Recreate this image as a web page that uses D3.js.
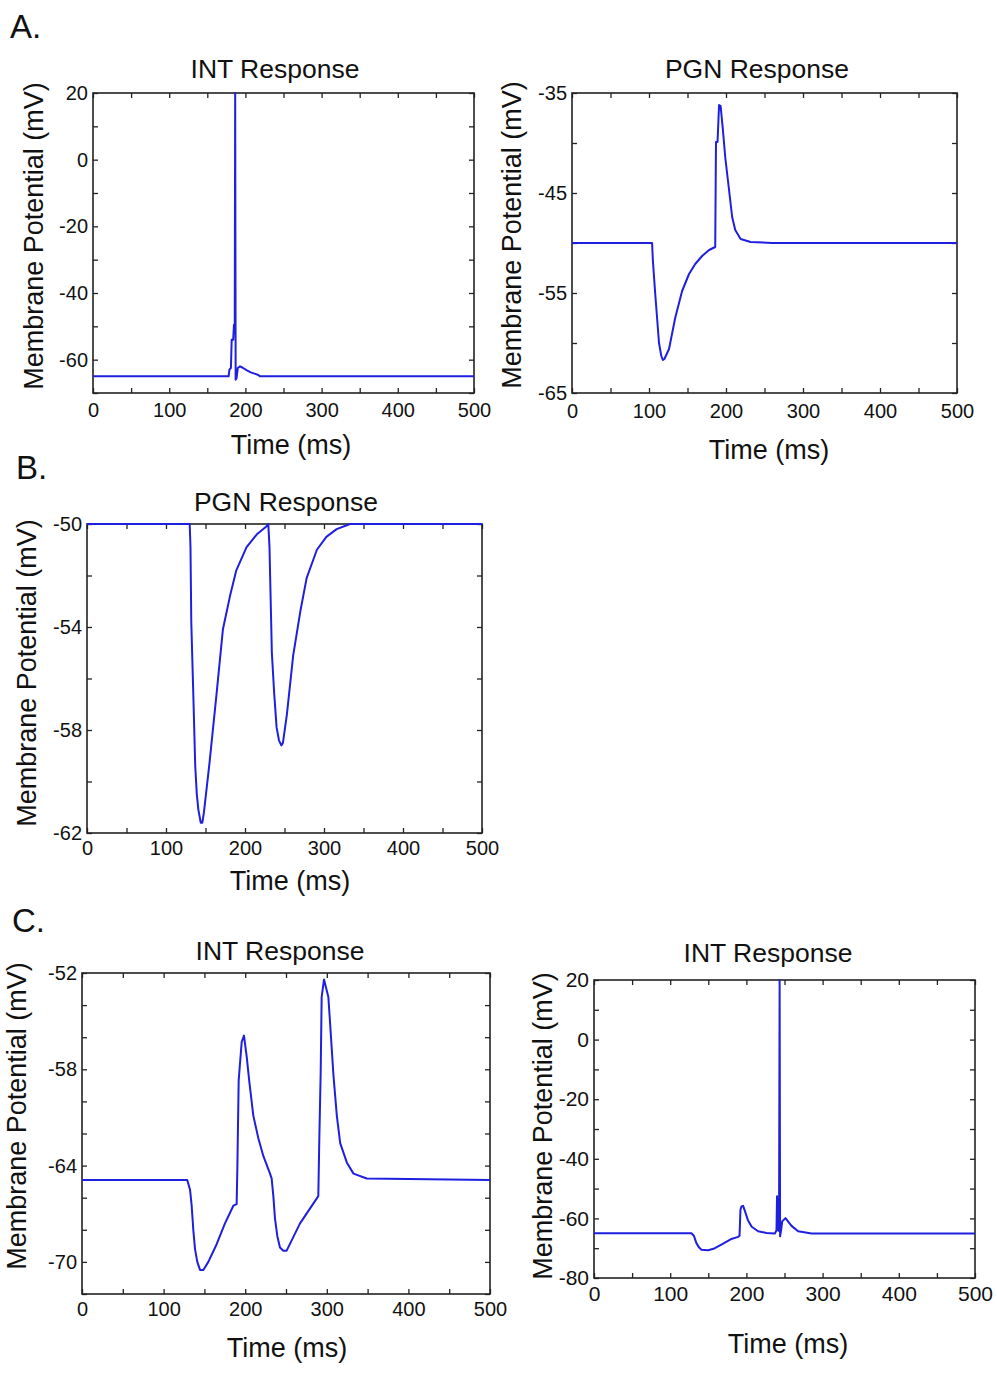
<!DOCTYPE html>
<html><head><meta charset="utf-8">
<script src="https://cdn.jsdelivr.net/npm/d3@7"></script>
<style>
body{margin:0;background:#fff}
svg{display:block}
text{font-family:"Liberation Sans",Arial,Helvetica,sans-serif;fill:#111}
</style>
</head><body>
<svg id="chart" width="997" height="1374"></svg>
<script>
// ---------- data ----------
const timeLabels = [0, 100, 200, 300, 400, 500];
const timeTicks = [0, 50, 100, 150, 200, 250, 300, 350, 400, 450, 500];

// A. INT response
const a1Time = [0, 178, 179, 181, 182, 184, 185, 186, 186.6, 187.2, 188.5, 190, 193, 197, 202, 207, 212, 217, 219, 500];
const a1Volt = [-65, -65, -63, -62.5, -54, -54, -49.5, -49.5, 20, -66, -65.5, -62.5, -62, -62.5, -63.2, -63.8, -64.2, -64.6, -65, -65];
const a1YLabels = [20, 0, -20, -40, -60];
const a1YTicks = [20, 10, 0, -10, -20, -30, -40, -50, -60, -70];

// A. PGN response
const a2Time = [0, 104, 105, 108, 111, 113, 116, 118, 120, 123, 126, 134, 143, 152, 160, 169, 178, 186, 187, 189, 191, 193, 196, 199, 202, 205, 208, 212, 219, 232, 260, 500];
const a2Volt = [-50, -50, -51.7, -55, -58, -60, -61.3, -61.7, -61.6, -61.1, -60.6, -57.5, -54.8, -53.1, -52.1, -51.3, -50.7, -50.4, -39.9, -39.9, -36.2, -36.3, -38.7, -41.4, -43.4, -45.4, -47.4, -48.7, -49.6, -49.9, -50, -50];
const a2YLabels = [-35, -45, -55, -65];
const a2YTicks = [-35, -40, -45, -50, -55, -60, -65];

// B. PGN response
const bTime = [0, 130, 131, 132, 135, 137, 139, 141, 144, 146, 148, 155, 164, 172, 181, 189, 202, 215, 227, 229.5, 231, 234, 237, 240, 243, 246, 248, 253, 261, 270, 278, 291, 303, 316, 333, 500];
const bVolt = [-50, -50, -50.9, -53.8, -57.1, -59.4, -60.5, -61.1, -61.6, -61.6, -61.2, -59.3, -56.6, -54.1, -52.8, -51.8, -50.9, -50.4, -50.1, -50, -50.9, -55, -56.6, -57.9, -58.4, -58.6, -58.5, -57.4, -55.1, -53.4, -52.1, -51, -50.5, -50.2, -50, -50];
const bYLabels = [-50, -54, -58, -62];
const bYTicks = [-50, -52, -54, -56, -58, -60, -62];

// C. INT response (left)
const c1Time = [0, 129, 132.4, 134.4, 136.4, 138.5, 141.3, 144.6, 148.7, 154.8, 165, 175.2, 185.5, 189.5, 190.4, 192, 195.7, 198.5, 201.8, 205.1, 210, 216.1, 222.2, 230.4, 232.4, 234.5, 236.5, 239.4, 242.6, 246.7, 250.8, 267.2, 289.6, 290.8, 292.5, 293.7, 296.6, 301.9, 304, 308.2, 312.3, 316.4, 324.5, 332.7, 349, 500];
const c1Volt = [-64.9, -64.9, -65.5, -66.5, -68, -69.2, -70, -70.5, -70.5, -70, -68.9, -67.6, -66.5, -66.4, -64.1, -58.7, -56.3, -55.9, -57.2, -58.8, -60.9, -62.3, -63.4, -64.5, -64.8, -65.9, -67.3, -68.4, -69.1, -69.3, -69.3, -67.6, -65.9, -62.4, -58.2, -53.5, -52.4, -53.5, -55.1, -58.4, -60.9, -62.6, -63.8, -64.5, -64.8, -64.9];
const c1YLabels = [-52, -58, -64, -70];
const c1YTicks = [-52, -54, -56, -58, -60, -62, -64, -66, -68, -70, -72];

// C. INT response (right)
const c2Time = [0, 127.9, 131, 134.4, 138, 141, 149.7, 158, 167.2, 180.4, 189.1, 191, 192.2, 193.5, 195.7, 198, 202, 207, 215.4, 226.4, 237.3, 239.5, 240.2, 240.8, 241.5, 242.8, 243.6, 244.2, 245.5, 247, 251.3, 259.2, 267.9, 285.5, 500];
const c2Volt = [-65, -65, -65.8, -68.3, -69.8, -70.5, -70.7, -70.1, -68.8, -66.9, -66.2, -65.8, -57.1, -56, -55.8, -57.5, -60.6, -62.8, -64.3, -64.9, -65.1, -64, -52.6, -63, -64, -64.2, 20, -66, -64, -61, -59.9, -62.5, -64.3, -65.1, -65.1];
const c2YLabels = [20, 0, -20, -40, -60, -80];
const c2YTicks = [20, 10, 0, -10, -20, -30, -40, -50, -60, -70, -80];

// ---------- drawing ----------
const svg = d3.select("#chart");
const LINE = "#1f1fe0";
const FONT = '"Liberation Sans",Arial,Helvetica,sans-serif';

function panel(c) {
  const g = svg.append("g");
  const x = d3.scaleLinear().domain([0, 500]).range([c.x0, c.x1]);
  const y = d3.scaleLinear().domain(c.yDomain).range([c.y1, c.y0]);
  const id = "clip" + c.id;
  svg.append("clipPath").attr("id", id).append("rect")
    .attr("x", c.x0 - 1).attr("y", c.y0 - 1.5)
    .attr("width", c.x1 - c.x0 + 2).attr("height", c.y1 - c.y0 + 3);

  const fs = c.tickFont || 20;
  const bottom = g.append("g").attr("transform", `translate(0,${c.y1})`)
    .call(d3.axisBottom(x).tickValues(timeTicks).tickSizeInner(-5).tickSizeOuter(0)
      .tickPadding(c.xPad).tickFormat(d => timeLabels.includes(d) ? d : ""));
  const top = g.append("g").attr("transform", `translate(0,${c.y0})`)
    .call(d3.axisTop(x).tickValues(timeTicks).tickSizeInner(-5).tickSizeOuter(0).tickFormat(""));
  const left = g.append("g").attr("transform", `translate(${c.x0},0)`)
    .call(d3.axisLeft(y).tickValues(c.yTicks).tickSizeInner(-5).tickSizeOuter(0)
      .tickPadding(c.yPad).tickFormat(d => c.yLabels.includes(d) ? d : ""));
  const right = g.append("g").attr("transform", `translate(${c.x1},0)`)
    .call(d3.axisRight(y).tickValues(c.yTicks).tickSizeInner(-5).tickSizeOuter(0).tickFormat(""));

  [bottom, top, left, right].forEach(a => {
    a.select(".domain").remove();
    a.selectAll("line").attr("stroke", "#222").attr("stroke-width", 1.3);
    a.selectAll("text").attr("font-size", fs).attr("font-family", FONT);
  });

  g.append("rect").attr("x", c.x0).attr("y", c.y0)
    .attr("width", c.x1 - c.x0).attr("height", c.y1 - c.y0)
    .attr("fill", "none").attr("stroke", "#222").attr("stroke-width", 1.6);

  const line = d3.line().x(d => x(d[0])).y(d => y(d[1]));
  g.append("path").datum(d3.zip(c.time, c.volt))
    .attr("clip-path", `url(#${id})`)
    .attr("d", line).attr("fill", "none")
    .attr("stroke", LINE).attr("stroke-width", 2).attr("stroke-linejoin", "round");

  g.append("text").attr("x", c.titleX).attr("y", c.titleY)
    .attr("text-anchor", "middle").attr("font-size", 26.5).text(c.title);
  g.append("text").attr("x", c.xlabX).attr("y", c.xlabY)
    .attr("text-anchor", "middle").attr("font-size", 27).text("Time (ms)");
  g.append("text").attr("transform", `translate(${c.ylabX},${c.ylabY}) rotate(-90)`)
    .attr("text-anchor", "middle").attr("font-size", 27).text("Membrane Potential (mV)");
}

panel({id: "a1", x0: 93, x1: 474, y0: 93, y1: 393, yDomain: [-70, 20],
  yTicks: a1YTicks, yLabels: a1YLabels, time: a1Time, volt: a1Volt,
  xPad: 10, yPad: 5, title: "INT Response", titleX: 275, titleY: 78,
  xlabX: 291, xlabY: 454, ylabX: 43, ylabY: 236});

panel({id: "a2", x0: 572, x1: 957, y0: 93, y1: 393, yDomain: [-65, -35],
  yTicks: a2YTicks, yLabels: a2YLabels, time: a2Time, volt: a2Volt,
  xPad: 11, yPad: 5, title: "PGN Response", titleX: 757, titleY: 78,
  xlabX: 769, xlabY: 459, ylabX: 521, ylabY: 235});

panel({id: "b", x0: 87, x1: 482, y0: 524, y1: 833, yDomain: [-62, -50],
  yTicks: bYTicks, yLabels: bYLabels, time: bTime, volt: bVolt,
  xPad: 8, yPad: 5, title: "PGN Response", titleX: 286, titleY: 511,
  xlabX: 290, xlabY: 890, ylabX: 36, ylabY: 673});

panel({id: "c1", x0: 82, x1: 490, y0: 973, y1: 1294, yDomain: [-72, -52],
  yTicks: c1YTicks, yLabels: c1YLabels, time: c1Time, volt: c1Volt,
  xPad: 8, yPad: 5, title: "INT Response", titleX: 280, titleY: 960,
  xlabX: 287, xlabY: 1357, ylabX: 26, ylabY: 1116});

panel({id: "c2", x0: 594, x1: 975, y0: 980, y1: 1278, yDomain: [-80, 20],
  yTicks: c2YTicks, yLabels: c2YLabels, time: c2Time, volt: c2Volt,
  xPad: 8, yPad: 5, tickFont: 21, title: "INT Response", titleX: 768, titleY: 962,
  xlabX: 788, xlabY: 1353, ylabX: 552, ylabY: 1126});

// panel letters
[["A.", 10, 38], ["B.", 16, 479], ["C.", 12, 932]].forEach(([t, px, py]) => {
  svg.append("text").attr("x", px).attr("y", py).attr("font-size", 33).text(t);
});
</script>
</body></html>
